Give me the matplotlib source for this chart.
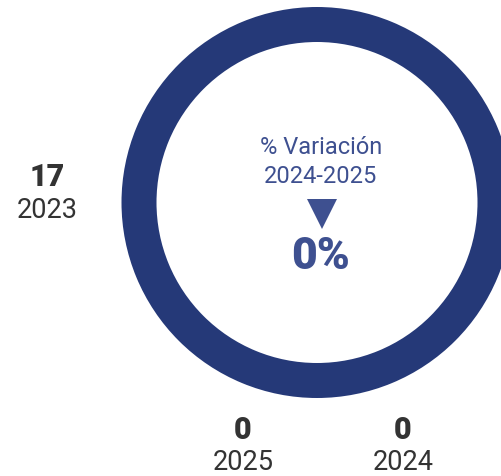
import matplotlib
matplotlib.use("Agg")
import matplotlib.pyplot as plt

# Yearly counts shown around the ring
years = ["2023", "2024", "2025"]
counts = [17, 0, 0]
variation_label = "% Variación\n2024-2025"
variation_value = "0%"

ring_color = "#253978"
accent_color = "#3e5090"
label_color = "#333333"

plt.rcParams["font.family"] = ["Roboto", "DejaVu Sans"]

fig = plt.figure(figsize=(5.02, 4.76), dpi=100)
ax = fig.add_axes([0, 0, 1, 1])

# Donut: only non-zero years produce a visible wedge
visible = [c for c in counts if c > 0]
ax.pie(visible, colors=[ring_color], radius=195.5, center=(317, 202.5),
       startangle=90, counterclock=False,
       wedgeprops=dict(width=35, edgecolor="none"), frame=True)

ax.set_xlim(0, 502)
ax.set_ylim(476, 0)
ax.set_aspect("equal")
ax.axis("off")

# Year labels with their counts
label_pos = {"2023": (47, 177), "2025": (243, 430), "2024": (403, 430)}
for year, count in zip(years, counts):
    x, y = label_pos[year]
    ax.text(x, y, str(count), ha="center", va="center", fontsize=22,
            fontweight="black", color=label_color)
    ax.text(x, y + 33, year, ha="center", va="center", fontsize=19.5,
            fontweight="normal", color=label_color)

# Centre annotation
ax.text(321, 162, variation_label, ha="center", va="center", fontsize=17,
        fontweight="normal", color=accent_color, linespacing=1.3)
ax.plot([322], [214], marker="v", markersize=21, color=accent_color,
        markeredgewidth=0)
ax.text(321, 257, variation_value, ha="center", va="center", fontsize=32,
        fontweight="black", color=accent_color)

fig.savefig("out.png", dpi=100)
